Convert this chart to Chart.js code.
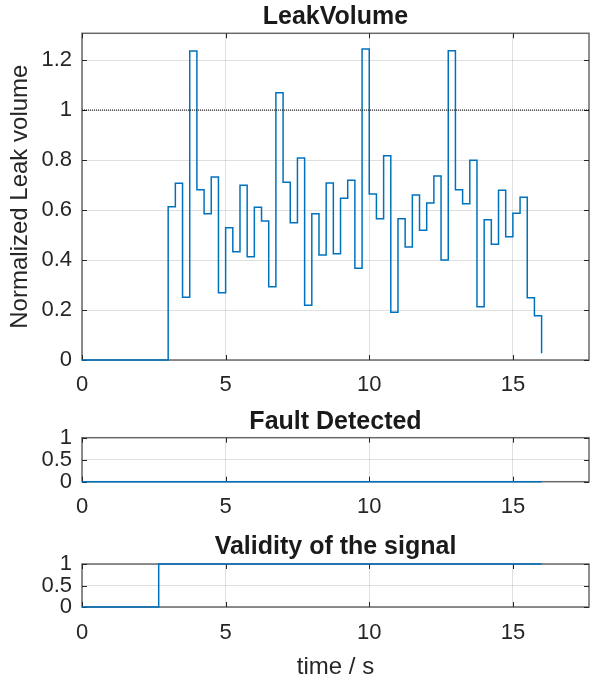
<!DOCTYPE html>
<html><head><meta charset="utf-8">
<script src="https://cdn.jsdelivr.net/npm/chart.js@4.4.0/dist/chart.umd.min.js"></script>
<style>
html,body{margin:0;padding:0;background:#fff;width:590px;height:682px;overflow:hidden}
.c{position:absolute;left:0;width:590px}
</style></head><body>
<div class="c" style="top:0;height:400px"><canvas id="c1"></canvas></div>
<div class="c" style="top:400px;height:126px"><canvas id="c2"></canvas></div>
<div class="c" style="top:526px;height:156px"><canvas id="c3"></canvas></div>
<script>
// ---- data ----
const leakTime = [0, 3, 3.25, 3.5, 3.75, 4, 4.25, 4.5, 4.75, 5, 5.25, 5.5, 5.75,
  6, 6.25, 6.5, 6.75, 7, 7.25, 7.5, 7.75, 8, 8.25, 8.5, 8.75, 9, 9.25, 9.5, 9.75,
  10, 10.25, 10.5, 10.75, 11, 11.25, 11.5, 11.75, 12, 12.25, 12.5, 12.75,
  13, 13.25, 13.5, 13.75, 14, 14.25, 14.5, 14.75, 15, 15.25, 15.5, 15.75, 16];
const leakValue = [0, 0.613, 0.707, 0.251, 1.236, 0.681, 0.585, 0.732, 0.269, 0.529, 0.433, 0.699, 0.413,
  0.611, 0.556, 0.293, 1.069, 0.711, 0.549, 0.808, 0.219, 0.585, 0.420, 0.708, 0.425, 0.647, 0.719, 0.367, 1.244,
  0.664, 0.565, 0.817, 0.191, 0.565, 0.452, 0.660, 0.519, 0.628, 0.736, 0.400, 1.237,
  0.681, 0.625, 0.799, 0.213, 0.561, 0.463, 0.679, 0.493, 0.587, 0.651, 0.249, 0.177, 0.027];
const thresholdTime = [0, 17.65];
const thresholdValue = [1, 1];
const faultTime = [0, 16];
const faultValue = [0, 0];
const validTime = [0, 2.67, 16];
const validValue = [0, 1, 1];
const xTicks = [0, 5, 10, 15];
const leakYTicks = [0, 0.2, 0.4, 0.6, 0.8, 1, 1.2];
const smallYTicks = [0, 0.5, 1];
const xMax = 17.65;

// ---- styling ----
const FONT = "'Liberation Sans', Arial, Helvetica, sans-serif";
const TXT = '#262626';
const BLUE = '#0072BD';
const GRID = 'rgba(38,38,38,0.15)';

const boxPlugin = {
  id: 'box',
  beforeDatasetsDraw(chart) {
    const {ctx, chartArea: a, scales} = chart;
    ctx.save();
    ctx.strokeStyle = '#6a6a6a';
    ctx.lineWidth = 1.5;
    ctx.strokeRect(a.left, a.top, a.right - a.left, a.bottom - a.top);
    ctx.strokeStyle = '#262626';
    ctx.lineWidth = 1;
    const L = 5;
    ctx.beginPath();
    scales.x.ticks.forEach(t => {
      const px = Math.round(scales.x.getPixelForValue(t.value)) + 0.5;
      ctx.moveTo(px, a.bottom); ctx.lineTo(px, a.bottom - L);
      ctx.moveTo(px, a.top); ctx.lineTo(px, a.top + L);
    });
    scales.y.ticks.forEach(t => {
      const py = Math.round(scales.y.getPixelForValue(t.value)) + 0.5;
      ctx.moveTo(a.left, py); ctx.lineTo(a.left + L, py);
      ctx.moveTo(a.right, py); ctx.lineTo(a.right - L, py);
    });
    ctx.stroke();
    ctx.restore();
  }
};

const fmt = v => String(+Number(v).toFixed(2));

function pts(xs, ys) { return xs.map((x, i) => ({x: x, y: ys[i]})); }

function makeChart(id, cfg) {
  const datasets = cfg.series.map(s => Object.assign({
    data: pts(s.x, s.y),
    borderColor: BLUE,
    borderWidth: 1.5,
    pointRadius: 0,
    fill: false,
    stepped: true,
    tension: 0,
    clip: 4
  }, s.style || {}));
  return new Chart(document.getElementById(id), {
    type: 'line',
    data: {datasets},
    plugins: [boxPlugin],
    options: {
      responsive: true,
      maintainAspectRatio: false,
      animation: false,
      events: [],
      layout: {padding: {left: 0, right: 1, top: 0, bottom: 0}},
      plugins: {
        legend: {display: false},
        tooltip: {enabled: false},
        title: {
          display: true,
          text: cfg.title,
          fullSize: false,
          color: '#1a1a1a',
          font: {family: FONT, size: 25, weight: 'bold', lineHeight: 1.2},
          padding: cfg.titlePad
        }
      },
      scales: {
        x: {
          type: 'linear',
          min: 0, max: xMax,
          afterFit: s => { s.height = cfg.xHeight; },
          afterBuildTicks: s => { s.ticks = xTicks.map(v => ({value: v})); },
          grid: {color: GRID, lineWidth: 1, drawTicks: false},
          border: {display: false},
          ticks: {color: TXT, font: {family: FONT, size: 22, lineHeight: 1.2}, padding: cfg.xTickPad, maxRotation: 0, autoSkip: false, includeBounds: false, callback: fmt},
          title: cfg.xTitle ? {display: true, text: cfg.xTitle, color: TXT, font: {family: FONT, size: 24, lineHeight: 1.2}, padding: {top: 0, bottom: cfg.xTitlePad}} : {display: false}
        },
        y: {
          type: 'linear',
          min: 0, max: cfg.yMax,
          afterFit: s => { s.width = 82; },
          afterBuildTicks: s => { s.ticks = cfg.yTicks.map(v => ({value: v})); },
          grid: {color: GRID, lineWidth: 1, drawTicks: false},
          border: {display: false},
          ticks: {color: TXT, font: {family: FONT, size: 22, lineHeight: 1.0}, padding: 10, autoSkip: false, includeBounds: false, callback: fmt},
          title: cfg.yTitle ? {display: true, text: cfg.yTitle, color: TXT, font: {family: FONT, size: 24, lineHeight: 1.2}, padding: {top: 5.6, bottom: 0}} : {display: false}
        }
      }
    }
  });
}

makeChart('c1', {
  title: 'LeakVolume',
  titlePad: {top: 2, bottom: 1.3},
  xHeight: 40, xTickPad: 11.8,
  yMax: 1.307, yTicks: leakYTicks,
  yTitle: 'Normalized Leak volume',
  series: [
    {x: thresholdTime, y: thresholdValue, style: {borderColor: '#000', borderWidth: 1, borderDash: [1, 1], stepped: false}},
    {x: leakTime, y: leakValue}
  ]
});

makeChart('c2', {
  title: 'Fault Detected',
  titlePad: {top: 6.7, bottom: 1},
  xHeight: 44.3, xTickPad: 12.1,
  yMax: 1, yTicks: smallYTicks,
  series: [{x: faultTime, y: faultValue}]
});

makeChart('c3', {
  title: 'Validity of the signal',
  titlePad: {top: 5.7, bottom: 2.3},
  xHeight: 75, xTickPad: 12.8,
  xTitle: 'time / s', xTitlePad: 0.6,
  yMax: 1, yTicks: smallYTicks,
  series: [{x: validTime, y: validValue}]
});
</script>
</body></html>
